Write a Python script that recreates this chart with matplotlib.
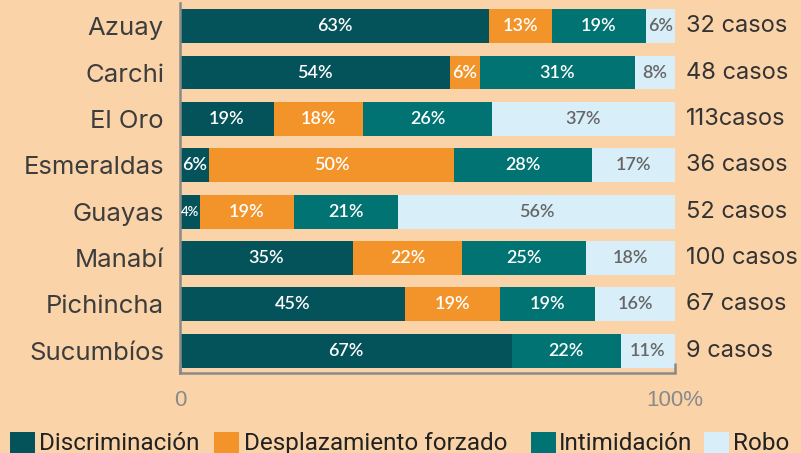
import matplotlib
matplotlib.use("Agg")
import matplotlib.pyplot as plt
from matplotlib.patches import Rectangle
import numpy as np

provinces = ['Azuay', 'Carchi', 'El Oro', 'Esmeraldas', 'Guayas', 'Manabí', 'Pichincha', 'Sucumbíos']
discriminacion = [63, 54, 19, 6, 4, 35, 45, 67]
desplazamiento = [13, 6, 18, 50, 19, 22, 19, 0]
intimidacion = [19, 31, 26, 28, 21, 25, 19, 22]
robo = [6, 8, 37, 17, 56, 18, 16, 11]
casos = ['32 casos', '48 casos', '113casos', '36 casos', '52 casos', '100 casos', '67 casos', '9 casos']

series_names = ['Discriminación', 'Desplazamiento forzado', 'Intimidación', 'Robo']
colors = ['#04525A', '#F29429', '#007372', '#D8EEF8']
text_colors = ['white', 'white', 'white', '#666666']

BG = '#FAD3A8'
GRAY = '#8A8A8A'

fig = plt.figure(figsize=(8.01, 4.53), dpi=100)
fig.patch.set_facecolor(BG)
ax = fig.add_axes([180 / 801, 80 / 453, 495 / 801, 370 / 453])
ax.set_facecolor(BG)

data = np.array([discriminacion, desplazamiento, intimidacion, robo], dtype=float)
totals = data.sum(axis=0)
norm = data / totals * 100

y = np.arange(len(provinces))
left = np.zeros(len(provinces))
for k in range(4):
    ax.barh(y, norm[k], left=left, height=0.73, color=colors[k], linewidth=0)
    for i in range(len(provinces)):
        v = data[k, i]
        if v > 0:
            fs = 9.5 if v < 5 else 13
            ax.text(left[i] + norm[k, i] / 2, y[i], f'{int(v)}%', ha='center', va='center',
                    color=text_colors[k], fontsize=fs, fontfamily='Lato', fontweight='semibold')
    left += norm[k]

for i, c in enumerate(casos):
    ax.annotate(c, xy=(1, y[i]), xycoords=('axes fraction', 'data'), xytext=(8, 0),
                textcoords='offset points', va='center', ha='left', fontsize=17,
                fontfamily='Inter', color='#333333')

ax.set_xlim(0, 100)
ax.set_ylim(7.48, -0.5)
ax.set_yticks(y)
ax.set_yticklabels(provinces, fontsize=18.5, fontfamily='Inter', color='#3d3d3d')
ax.tick_params(axis='y', length=0, pad=11.5)
ax.set_xticks([0, 100])
ax.set_xticklabels(['0', '100%'], fontsize=16, fontfamily='Liberation Sans', color=GRAY)
ax.tick_params(axis='x', direction='in', length=7, width=1.8, color=GRAY, pad=12)

for s in ['top', 'right']:
    ax.spines[s].set_visible(False)
for s in ['left', 'bottom']:
    ax.spines[s].set_color(GRAY)
    ax.spines[s].set_linewidth(1.8)

# Legend
sq_x = [10, 214, 531, 704]
tx_x = [39, 244, 559, 733]
for k in range(4):
    fig.patches.append(Rectangle((sq_x[k] / 801, 0), 25 / 801, 21 / 453, transform=fig.transFigure,
                                 facecolor=colors[k], edgecolor='none'))
    fig.text(tx_x[k] / 801, 3 / 453, series_names[k], ha='left', va='baseline', fontsize=17.5,
             family=['Roboto', 'DejaVu Sans'], color='#222222')

fig.savefig('out.png', dpi=100, facecolor=BG)
